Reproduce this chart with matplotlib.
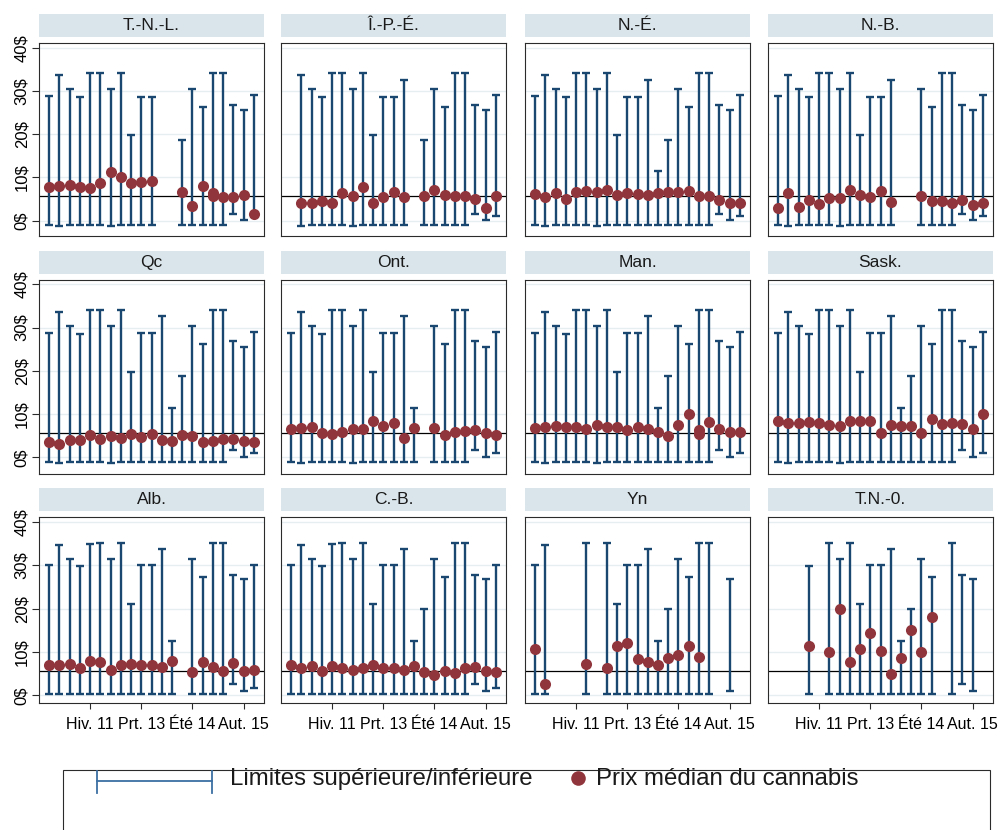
import numpy as np
import matplotlib
matplotlib.use("Agg")
import matplotlib.pyplot as plt
from matplotlib.patches import Rectangle
from matplotlib.lines import Line2D

plt.rcParams['font.family'] = ['Liberation Sans', 'DejaVu Sans']

# ---------------- data ----------------
N_SLOTS = 21
TICK_POS = [4, 9, 14, 19]
TICK_LABELS = ["Hiv. 11", "Prt. 13", "Été 14", "Aut. 15"]
Y_TICKS = [0, 10, 20, 30, 40]
REF_PRICE = 5.6

# upper / lower limits per time slot (eastern/central provinces)
UPPER_EAST = [28.8, 33.6, 30.4, 28.5, 34.1, 34.1, 30.4, 34.1, 19.8, 28.7, 28.7,
              32.6, 11.4, 18.7, 30.4, 26.2, 34.1, 34.1, 26.8, 25.6, 29.0]
LOWER_EAST = [-1.0, -1.3, -1.0, -1.0, -1.0, -1.0, -1.3, -1.0, -1.0, -1.0, -1.0,
              -1.0, -1.0, -1.0, -1.0, -1.0, -1.0, -1.0, 1.65, 0.15, 1.1]
# upper / lower limits per time slot (western provinces & territories)
UPPER_WEST = [30.0, 34.8, 31.5, 29.8, 35.0, 35.1, 31.6, 35.1, 21.1, 30.0, 30.0,
              33.7, 12.6, 19.9, 31.6, 27.4, 35.1, 35.3, 27.9, 26.9, 30.1]
LOWER_WEST = [0.2, 0.2, 0.2, 0.2, 0.2, 0.2, 0.2, 0.2, 0.2, 0.2, 0.2,
              0.2, 0.2, 0.2, 0.2, 0.2, 0.2, 0.2, 2.7, 1.1, 1.8]

N = None
MED_TNL = [7.9, 8.0, 8.2, 7.9, 7.5, 8.8, 11.3, 10.0, 8.8, 8.9, 9.2, N, N,
           6.6, 3.5, 8.1, 6.3, 5.4, 5.4, 5.9, 1.5]
MED_PEI = [N, 4.2, 4.2, 4.5, 4.0, 6.4, 5.8, 7.8, 4.2, 5.5, 6.7, 5.4, N,
           5.7, 7.0, 5.9, 5.8, 5.8, 5.0, 3.0, 5.8]
MED_NS = [6.2, 5.5, 6.3, 5.0, 6.6, 6.9, 6.6, 7.1, 5.9, 6.5, 6.2, 5.9, 6.3,
          6.7, 6.7, 6.9, 5.8, 5.8, 4.9, 4.0, 4.0]
MED_NB = [2.9, 6.3, 3.1, 4.9, 3.8, 5.2, 5.2, 7.2, 5.9, 5.4, 6.9, 4.4, N,
          N, 5.7, 4.6, 4.5, 4.2, 4.8, 3.6, 4.0]
MED_QC = [3.6, 3.0, 3.9, 3.9, 5.1, 4.2, 4.9, 4.5, 5.5, 4.8, 5.4, 4.1, 3.7,
          5.1, 4.9, 3.6, 3.7, 4.2, 4.2, 3.8, 3.5]
MED_ON = [6.6, 6.8, 7.0, 5.7, 5.5, 5.9, 6.6, 6.5, 8.3, 7.3, 7.9, 4.5, 6.8,
          N, 6.7, 5.2, 5.9, 6.1, 6.2, 5.7, 5.2]
MED_MB = [6.7, 7.1, 7.3, 7.1, 6.9, 6.5, 7.4, 7.1, 7.1, 6.3, 7.1, 6.5, 5.9,
          4.9, 7.4, 9.9, 6.4, 8.1, 6.5, 5.9, 5.9]
MED_SK = [8.5, 8.0, 8.0, 8.2, 8.0, 7.4, 7.3, 8.4, 8.3, 8.3, 5.7, 7.5, 7.2,
          7.2, 5.7, 8.8, 7.6, 8.0, 7.7, 6.5, 9.9]
MED_AB = [6.9, 6.9, 7.3, 6.3, 8.0, 7.6, 5.9, 6.9, 7.3, 7.1, 6.9, 6.5, 8.0,
          N, 5.4, 7.6, 6.5, 5.7, 7.5, 5.7, 5.9]
MED_BC = [7.1, 6.2, 6.7, 5.7, 6.8, 6.2, 5.9, 6.3, 7.1, 6.2, 6.3, 5.9, 6.7,
          5.3, 4.8, 5.5, 5.2, 6.3, 6.6, 5.5, 5.4]
MED_YT = [10.6, 2.7, N, N, N, 7.2, N, 6.3, 11.3, 12.1, 8.4, 7.7, 7.1,
          8.6, 9.4, 11.3, 8.9, N, N, N, N]
MED_NT = [N, N, N, 11.3, N, 9.9, 20.0, 7.7, 10.6, 14.3, 10.3, 5.0, 8.6,
          15.2, 10.0, 18.0, N, N, N, N, N]
# second observation sharing a slot
EXTRA_TNL = {16: 5.8}
EXTRA_MB = {16: 5.4}
# slots with limits but no median
BARS_YT = [0, 1, 5, 7, 8, 9, 10, 11, 12, 13, 14, 15, 16, 17, 19]
BARS_NT = [3, 5, 6, 7, 8, 9, 10, 11, 12, 13, 14, 15, 17, 18, 19]

PANELS = [
    ("T.-N.-L.", MED_TNL, None, "east", EXTRA_TNL),
    ("Î.-P.-É.", MED_PEI, None, "east", {}),
    ("N.-É.", MED_NS, None, "east", {}),
    ("N.-B.", MED_NB, None, "east", {}),
    ("Qc", MED_QC, None, "east", {}),
    ("Ont.", MED_ON, None, "east", {}),
    ("Man.", MED_MB, None, "east", EXTRA_MB),
    ("Sask.", MED_SK, None, "east", {}),
    ("Alb.", MED_AB, None, "west", {}),
    ("C.-B.", MED_BC, None, "west", {}),
    ("Yn", MED_YT, BARS_YT, "west", {}),
    ("T.N.-0.", MED_NT, BARS_NT, "west", {}),
]

LEGEND_LABELS = ["Limites supérieure/inférieure", "Prix médian du cannabis"]

# ---------------- style / layout ----------------
BAR_COLOR = "#1a476f"
DOT_COLOR = "#90353b"
STRIP_COLOR = "#d9e5eb"
GRID_COLOR = "#e6eef1"

W, H = 998, 830
fig = plt.figure(figsize=(W / 100, H / 100), dpi=100)
fig.patch.set_facecolor("white")

COL_LEFT = [39, 281, 525, 768]
BOX_W = 225
ROW_TOP = [43, 280, 517]
ROW_BOT = [236, 474, 703]
ROW_YLIM = [(-3.54, 41.1), (-3.86, 41.0), (-1.78, 41.2)]


def fig_rect(x0, y0, x1, y1):
    return [x0 / W, 1 - y1 / H, (x1 - x0) / W, (y1 - y0) / H]


for i, (name, med, bars, group, extra) in enumerate(PANELS):
    r, c = divmod(i, 4)
    l = COL_LEFT[c]
    t, b = ROW_TOP[r], ROW_BOT[r]
    ax = fig.add_axes(fig_rect(l, t, l + BOX_W, b))
    ax.set_xlim(-1, 21)
    ax.set_ylim(*ROW_YLIM[r])

    upper = UPPER_EAST if group == "east" else UPPER_WEST
    lower = LOWER_EAST if group == "east" else LOWER_WEST
    if bars is None:
        bars = [k for k in range(N_SLOTS) if med[k] is not None]
    bx = np.array(bars)
    lo = np.array([lower[k] for k in bars])
    up = np.array([upper[k] for k in bars])

    for v in Y_TICKS:
        ax.axhline(v, color=GRID_COLOR, lw=1.0, zorder=0)
    ax.axhline(REF_PRICE, color="black", lw=0.9, zorder=1)

    ax.errorbar(bx, lo, yerr=[np.zeros_like(lo), up - lo], fmt="none",
                ecolor=BAR_COLOR, elinewidth=1.7, capsize=3.0, capthick=1.7,
                zorder=2)
    mx = [k for k in range(N_SLOTS) if med[k] is not None]
    my = [med[k] for k in mx]
    mx += list(extra.keys())
    my += list(extra.values())
    ax.plot(mx, my, linestyle="none", marker="o", markersize=8.0,
            color=DOT_COLOR, markeredgewidth=0, zorder=3)

    for s in ax.spines.values():
        s.set_color("#2b2b2b")
        s.set_linewidth(0.8)

    ax.set_yticks(Y_TICKS)
    if c == 0:
        ax.set_yticklabels([f"{v}$" for v in Y_TICKS], rotation=90,
                           va="center", fontsize=12)
        ax.tick_params(axis="y", length=5, width=0.8, pad=2, color="#2b2b2b")
    else:
        ax.tick_params(axis="y", length=0, labelleft=False)
    if r == 2:
        ax.set_xticks(TICK_POS)
        ax.set_xticklabels(TICK_LABELS, fontsize=11.5)
        ax.tick_params(axis="x", length=4, width=0.8, pad=6, color="#2b2b2b")
    else:
        ax.set_xticks([])

    # strip title
    sax = fig.add_axes(fig_rect(l, t - 29, l + BOX_W, t - 6))
    sax.set_facecolor(STRIP_COLOR)
    for s in sax.spines.values():
        s.set_visible(False)
    sax.set_xticks([])
    sax.set_yticks([])
    sax.text(0.5, 0.5, name, ha="center", va="center", fontsize=12.5,
             transform=sax.transAxes, color="#1a1a1a")

# ---------------- legend ----------------
fig.add_artist(Rectangle((63 / W, 1 - 832 / H), (990 - 63) / W, (832 - 770) / H,
                         transform=fig.transFigure, facecolor="white",
                         edgecolor="#2b2b2b", lw=0.8))
ly = 1 - 781 / H
fig.add_artist(Line2D([97 / W, 212 / W], [ly, ly], transform=fig.transFigure,
                      color="#3c6fa3", lw=1.3))
for xc in (97, 212):
    fig.add_artist(Line2D([xc / W, xc / W], [1 - 771 / H, 1 - 793 / H],
                          transform=fig.transFigure, color="#3c6fa3", lw=1.3))
fig.text(230 / W, 1 - 779 / H, LEGEND_LABELS[0], fontsize=17.3, va="center",
         ha="left", color="#1a1a1a")
fig.add_artist(Line2D([578 / W], [1 - 778 / H], transform=fig.transFigure,
                      marker="o", markersize=10.5, color=DOT_COLOR,
                      markeredgewidth=0, linestyle="none"))
fig.text(596 / W, 1 - 779 / H, LEGEND_LABELS[1], fontsize=17.3, va="center",
         ha="left", color="#1a1a1a")

fig.savefig("out.png", dpi=100, facecolor="white")
